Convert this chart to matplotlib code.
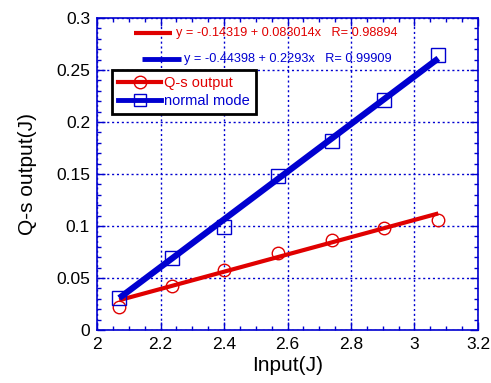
import matplotlib
matplotlib.use("Agg")
import matplotlib.pyplot as plt
import numpy as np
from matplotlib.ticker import MultipleLocator
from matplotlib.lines import Line2D

plt.rcParams['font.family'] = ['Liberation Sans', 'DejaVu Sans']

x_input = [2.07, 2.235, 2.40, 2.57, 2.74, 2.905, 3.075]
qs_output = [0.022, 0.042, 0.058, 0.074, 0.087, 0.098, 0.106]
normal_mode = [0.031, 0.069, 0.099, 0.148, 0.182, 0.221, 0.264]

qs_fit = [-0.14319, 0.083014, 0.98894]
nm_fit = [-0.44398, 0.2293, 0.99909]

red = '#e00000'
blue = '#0000d0'

fig = plt.figure(figsize=(4.91, 3.83), dpi=100)
ax = fig.add_axes([0.1976, 0.1384, 0.9735 - 0.1976, 0.953 - 0.1384])

xs = np.array([x_input[0], x_input[-1]])
ax.plot(xs, qs_fit[0] + qs_fit[1] * xs, color=red, lw=3, solid_capstyle='butt', zorder=3)
ax.plot(xs, nm_fit[0] + nm_fit[1] * xs, color=blue, lw=4.5, solid_capstyle='butt', zorder=3)
ax.plot(x_input, qs_output, 'o', mfc='none', mec=red, ms=9, mew=1, zorder=4)
ax.plot(x_input, normal_mode, 's', mfc='none', mec=blue, ms=9.5, mew=1, zorder=4)

ax.set_xlim(2, 3.2)
ax.set_ylim(0, 0.3)
ax.xaxis.set_minor_locator(MultipleLocator(0.05))
ax.yaxis.set_minor_locator(MultipleLocator(0.01))
ax.set_xticks(np.arange(2, 3.21, 0.2))
ax.set_xticklabels(['2', '2.2', '2.4', '2.6', '2.8', '3', '3.2'])
ax.set_yticks(np.arange(0, 0.301, 0.05))
ax.set_yticklabels(['0', '0.05', '0.1', '0.15', '0.2', '0.25', '0.3'])
ax.tick_params(which='both', direction='in', top=True, right=True, color=blue, labelsize=12.5, labelcolor='black')
ax.tick_params(which='major', length=6, width=1, pad=5)
ax.tick_params(which='minor', length=3, width=1)
for s in ax.spines.values():
    s.set_color(blue)
    s.set_linewidth(1.2)
ax.grid(True, which='major', color=blue, linestyle=(0, (1.5, 2)), lw=1)
ax.set_xlabel('Input(J)', fontsize=15, labelpad=3)
ax.set_ylabel('Q-s output(J)', fontsize=15, labelpad=14)

# fit equation annotations
ax.plot([0.097, 0.197], [0.952, 0.952], transform=ax.transAxes, color=red, lw=3, solid_capstyle='butt', clip_on=False)
ax.text(0.207, 0.952, 'y = %g + %gx   R= %g' % (qs_fit[0], qs_fit[1], qs_fit[2]),
        transform=ax.transAxes, color=red, fontsize=9.2, va='center', ha='left')
ax.plot([0.118, 0.22], [0.869, 0.869], transform=ax.transAxes, color=blue, lw=3.5, solid_capstyle='butt', clip_on=False)
ax.text(0.228, 0.869, 'y = %g + %gx   R= %g' % (nm_fit[0], nm_fit[1], nm_fit[2]),
        transform=ax.transAxes, color=blue, fontsize=9.2, va='center', ha='left')

h1 = Line2D([], [], color=red, lw=3, marker='o', mfc='none', mec=red, ms=9)
h2 = Line2D([], [], color=blue, lw=3.5, marker='s', mfc='none', mec=blue, ms=9)
leg = ax.legend([h1, h2], ['Q-s output', 'normal mode'], loc='upper left',
                bbox_to_anchor=(0.039, 0.833), fontsize=10.5, frameon=True, fancybox=False,
                handlelength=3.0, handletextpad=0.2, borderpad=0.4, labelspacing=0.3,
                borderaxespad=0)
leg.get_frame().set_edgecolor('black')
leg.get_frame().set_linewidth(2)
leg.get_frame().set_alpha(1)
for t, c in zip(leg.get_texts(), [red, blue]):
    t.set_color(c)

fig.savefig('out.png', dpi=100)
